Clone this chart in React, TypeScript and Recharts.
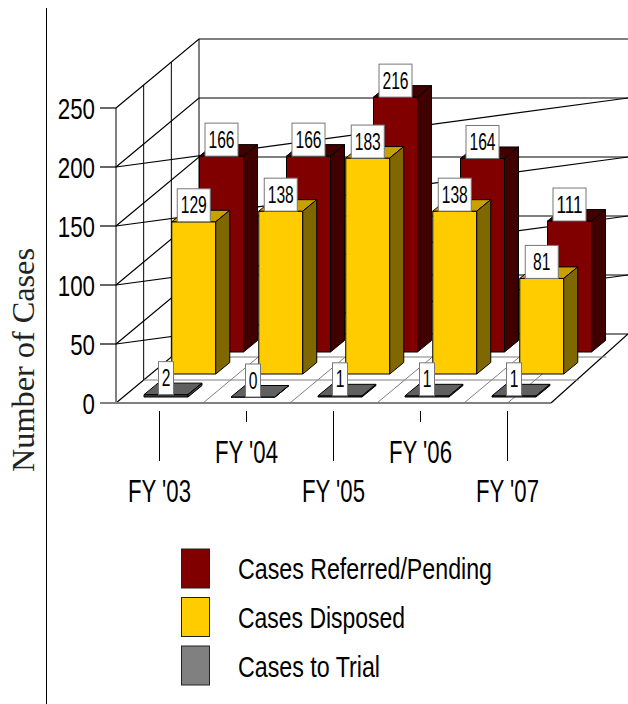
import { Bar, BarChart, CartesianGrid, Legend, XAxis, YAxis } from 'recharts'

const categories = ["FY '03", "FY '04", "FY '05", "FY '06", "FY '07"]
const referred = [166, 166, 216, 164, 111]
const disposed = [129, 138, 183, 138, 81]
const trial = [2, 0, 1, 1, 1]
const yTicks = [0, 50, 100, 150, 200, 250]

const legendItems = [
  { name: 'Cases Referred/Pending', color: '#800000', length: 254 },
  { name: 'Cases Disposed', color: '#FFCC00', length: 167 },
  { name: 'Cases to Trial', color: '#808080', length: 142 }
]

const data = categories.map((category, i) => ({
  category,
  referred: referred[i],
  disposed: disposed[i],
  trial: trial[i]
}))

const SANS = "'Liberation Sans', Arial, sans-serif"
const SERIF = "'Liberation Serif', 'Times New Roman', serif"

// 3d projection of the box
const LEFT = 116
const TOP_Y = 108
const FLOOR_Y = 403
const BACK_X = 83
const BACK_Y = 69
const RIGHT_END = 628
const FLOOR_RIGHT = 551
const BAND = 87
const SLOT = 27.75
const FACE_W = 44
const DEPTH_X = 14
const DEPTH_Y = 11.5

// wall lines for one y tick, drawn by the grid so they stay behind the bars
function WallLine(props: any) {
  const y = props.y1
  const isFloor = Math.round(y) === FLOOR_Y
  const isTop = Math.round(y) === TOP_Y
  const h = FLOOR_Y - TOP_Y
  return (
    <g key={props.key}>
      {isTop && (
        <g stroke='#000' fill='none'>
          <line x1={LEFT + BACK_X / 3} y1={y - BACK_Y / 3} x2={LEFT + BACK_X / 3} y2={y + h - BACK_Y / 3} />
          <line x1={LEFT + (2 * BACK_X) / 3} y1={y - (2 * BACK_Y) / 3} x2={LEFT + (2 * BACK_X) / 3} y2={y + h - (2 * BACK_Y) / 3} />
          <line x1={LEFT + BACK_X} y1={y - BACK_Y} x2={LEFT + BACK_X} y2={y + h - BACK_Y} />
        </g>
      )}
      <polyline
        points={`${LEFT},${y} ${LEFT + BACK_X},${y - BACK_Y} ${RIGHT_END},${y - BACK_Y}`}
        fill='none'
        stroke='#000'
        strokeWidth={1.2}
      />
      {!isFloor && !isTop && <line x1={LEFT} y1={y} x2={RIGHT_END} y2={y - BACK_Y} stroke='#000' strokeWidth={1.2} />}
      {isFloor && (
        <g>
          <line x1={FLOOR_RIGHT} y1={y} x2={RIGHT_END} y2={y - BACK_Y} stroke='#000' strokeWidth={1.2} />
          <line x1={LEFT + BACK_X / 3} y1={y - BACK_Y / 3} x2={FLOOR_RIGHT + BACK_X / 3} y2={y - BACK_Y / 3} stroke='#808080' />
          <line x1={LEFT + (2 * BACK_X) / 3} y1={y - (2 * BACK_Y) / 3} x2={FLOOR_RIGHT + (2 * BACK_X) / 3} y2={y - (2 * BACK_Y) / 3} stroke='#808080' />
          <line x1={LEFT} y1={y} x2={LEFT} y2={y - h} stroke='#808080' strokeWidth={2} />
          <line x1={100} y1={y} x2={FLOOR_RIGHT} y2={y} stroke='#808080' strokeWidth={2} />
        </g>
      )}
      {!isFloor && <line x1={100} y1={y} x2={LEFT} y2={y} stroke='#000' strokeWidth={1.2} />}
    </g>
  )
}

// floor line between two categories
function FloorLine(props: any) {
  const edge = props.x1 - BAND / 2 - 26
  if (edge <= LEFT + 1) return <g key={props.key} />
  return <line key={props.key} x1={edge} y1={FLOOR_Y} x2={edge + BACK_X} y2={FLOOR_Y - BACK_Y} stroke='#808080' />
}

function YTick(props: any) {
  const { y, payload } = props
  return (
    <text
      x={95}
      y={y + 11}
      textAnchor='end'
      fontFamily={SANS}
      fontSize={30}
      fill='#000'
      textLength={String(payload.value).length * 12.4}
      lengthAdjust='spacingAndGlyphs'
    >
      {payload.value}
    </text>
  )
}

function XTick(props: any) {
  const { x, y, payload, index } = props
  const cx = x - 26
  const lower = index % 2 === 0
  return (
    <g>
      <line x1={cx} y1={y} x2={cx} y2={lower ? 461 : 422} stroke='#000' />
      <text
        x={cx}
        y={lower ? 502 : 463}
        textAnchor='middle'
        fontFamily={SANS}
        fontSize={31}
        fill='#000'
        textLength={63}
        lengthAdjust='spacingAndGlyphs'
      >
        {payload.value}
      </text>
    </g>
  )
}

function Box3D(props: any) {
  const { x, y, height, value, shiftX, shiftY, front, top, side } = props
  if (x === undefined || y === undefined) return null
  const l = x + shiftX
  const r = l + FACE_W
  const t = y + shiftY
  const b = y + height + shiftY
  const digits = String(value).length
  const boxW = digits > 1 ? 33 : 15
  const cx = l + 22
  return (
    <g stroke='#000' strokeWidth={1}>
      <polygon points={`${l},${b} ${r},${b} ${r},${t} ${l},${t}`} fill={front} />
      <polygon points={`${l},${t} ${r},${t} ${r + DEPTH_X},${t - DEPTH_Y} ${l + DEPTH_X},${t - DEPTH_Y}`} fill={top} />
      <polygon points={`${r},${b} ${r + DEPTH_X},${b - DEPTH_Y} ${r + DEPTH_X},${t - DEPTH_Y} ${r},${t}`} fill={side} />
      <rect x={cx - boxW / 2} y={t - 33} width={boxW} height={33} fill='#fff' stroke='#777' />
      <text
        x={cx}
        y={t - 8.5}
        textAnchor='middle'
        fontFamily={SANS}
        fontSize={23}
        fill='#000'
        stroke='none'
        textLength={digits * 8.7}
        lengthAdjust='spacingAndGlyphs'
      >
        {value}
      </text>
    </g>
  )
}

function LegendBlock() {
  return (
    <svg width={628} height={164} style={{ display: 'block' }}>
      {legendItems.map((item, i) => (
        <g key={item.name}>
          <rect x={181.5} y={9 + i * 48.5} width={28} height={39} fill={item.color} stroke='#222' />
          <text
            x={238}
            y={39 + i * 49}
            fontFamily={SANS}
            fontSize={30}
            fill='#000'
            textLength={item.length}
            lengthAdjust='spacingAndGlyphs'
          >
            {item.name}
          </text>
        </g>
      ))}
    </svg>
  )
}

function YTitle() {
  return (
    <text
      transform='translate(34,360) rotate(-90)'
      textAnchor='middle'
      fontFamily={SERIF}
      fontSize={31}
      fill='#222'
      textLength={224}
      lengthAdjust='spacingAndGlyphs'
    >
      Number of Cases
    </text>
  )
}

export default function App() {
  return (
    <div style={{ position: 'absolute', left: 0, top: 0, width: 628, height: 704, background: '#fff' }}>
      <div style={{ position: 'absolute', left: 46, top: 8, width: 1, height: 696, background: '#000' }} />
      <BarChart
        width={628}
        height={704}
        data={data}
        margin={{ top: TOP_Y, right: 51, bottom: 0, left: 0 }}
        barSize={SLOT}
        barGap={0}
        barCategoryGap={0}
      >
        <CartesianGrid
          horizontal={(p: any) => <WallLine {...p} />}
          vertical={(p: any) => <FloorLine {...p} />}
          horizontalValues={yTicks}
        />
        <XAxis
          dataKey='category'
          height={301}
          padding={{ left: 26, right: 0 }}
          axisLine={false}
          tickLine={false}
          interval={0}
          tick={<XTick />}
        />
        <YAxis
          width={116}
          domain={[0, 250]}
          ticks={yTicks}
          axisLine={false}
          tickLine={false}
          tick={<YTick />}
          label={<YTitle />}
        />
        <Legend
          layout='vertical'
          align='center'
          verticalAlign='middle'
          wrapperStyle={{ position: 'absolute', left: 0, top: 540, width: 628 }}
          content={() => <LegendBlock />}
        />
        <Bar
          dataKey='referred'
          isAnimationActive={false}
          shape={(p: any) => <Box3D {...p} shiftX={SLOT * 2} shiftY={-51} front='#800000' top='#400000' side='#400000' />}
        />
        <Bar
          dataKey='disposed'
          isAnimationActive={false}
          shape={(p: any) => <Box3D {...p} shiftX={0} shiftY={-29} front='#FFCC00' top='#C8A000' side='#806800' />}
        />
        <Bar
          dataKey='trial'
          isAnimationActive={false}
          shape={(p: any) => <Box3D {...p} shiftX={-SLOT * 2} shiftY={-6} front='#404040' top='#606060' side='#404040' />}
        />
      </BarChart>
    </div>
  )
}
